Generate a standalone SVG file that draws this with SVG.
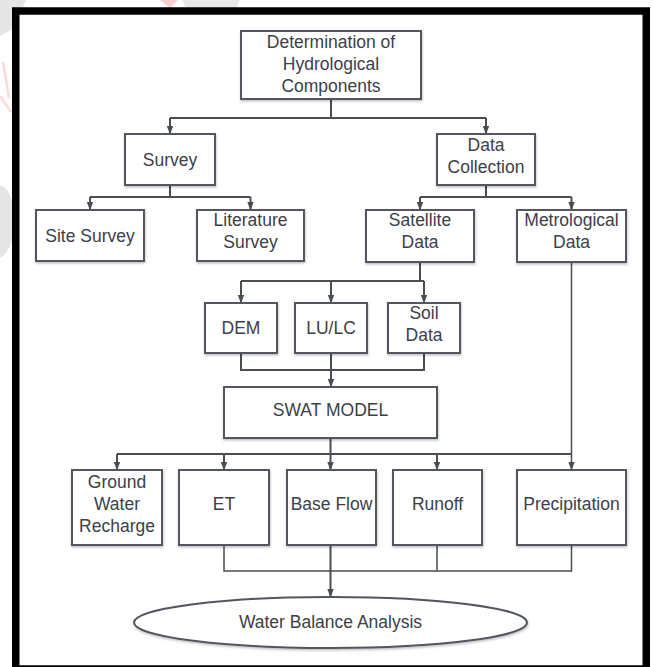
<svg xmlns="http://www.w3.org/2000/svg" width="654" height="667" viewBox="0 0 654 667">
<defs>
<style>
.box{fill:#fff;stroke:#51565e;stroke-width:2;filter:url(#sh)}
.t{font-family:"Liberation Sans",Arial,sans-serif;font-size:17.5px;fill:#3c4049;text-anchor:middle}
.c{fill:none;stroke:#4a4d52;stroke-width:2}
.c2{fill:none;stroke:#4a4d52;stroke-width:1.5}
</style>
<marker id="ah" markerUnits="userSpaceOnUse" markerWidth="8" markerHeight="9" refX="4" refY="8" orient="0" viewBox="0 0 8 9">
<path d="M0.8,0 L7.2,0 L4,8.5 Z" fill="#4a4d52"/>
</marker>
<filter id="sh" x="-10%" y="-10%" width="130%" height="140%">
<feDropShadow dx="0.5" dy="1.5" stdDeviation="1.2" flood-color="#000" flood-opacity="0.25"/>
</filter>
</defs>
<rect width="654" height="667" fill="#fff"/>
<g id="watermark">
<path d="M0,0 L26,0 L14,28 L0,36 Z" fill="#e6e6e6"/>
<path d="M3,62 L9,98 M0,96 L11,112" stroke="#fbdada" stroke-width="2.5" fill="none"/>
<path d="M0,185 Q14,190 14,220 Q14,250 0,258 Z" fill="#e6e6e6"/>
<path d="M160,0 L178,0 L170,8 Z" fill="#f8d0d0"/>
<path d="M182,0 L240,0 L236,8 L186,8 Z" fill="#e8e8e8"/>
</g>
<rect id="frame" x="15.75" y="11" width="630.5" height="658" fill="#fff" stroke="#000" stroke-width="7.5"/>
<g id="connectors">
<path class="c" d="M331,99 V118 M170,118 H486"/>
<path class="c" d="M170,118 V134" marker-end="url(#ah)"/>
<path class="c" d="M486,118 V134" marker-end="url(#ah)"/>
<path class="c" d="M170,185 V197 M90,197 H250.5"/>
<path class="c" d="M90,197 V210" marker-end="url(#ah)"/>
<path class="c" d="M250.5,197 V210" marker-end="url(#ah)"/>
<path class="c" d="M486,185 V197 M420,197 H571.5"/>
<path class="c" d="M420,197 V210" marker-end="url(#ah)"/>
<path class="c" d="M571.5,197 V210" marker-end="url(#ah)"/>
<path class="c" d="M420,262 V281 M241,281 H424"/>
<path class="c" d="M241,281 V303" marker-end="url(#ah)"/>
<path class="c" d="M331,281 V303" marker-end="url(#ah)"/>
<path class="c" d="M424,281 V303" marker-end="url(#ah)"/>
<path class="c" d="M241,353 V370 H424 V353"/>
<path class="c" d="M331,353 V387" marker-end="url(#ah)"/>
<path class="c" d="M330.5,438 V454 M117,454 H571.5"/>
<path class="c" d="M117,454 V470" marker-end="url(#ah)"/>
<path class="c" d="M224,454 V470" marker-end="url(#ah)"/>
<path class="c" d="M330.5,454 V470" marker-end="url(#ah)"/>
<path class="c" d="M437,454 V470" marker-end="url(#ah)"/>
<path class="c2" d="M571.5,262 V470" marker-end="url(#ah)"/>
<path class="c2" d="M224,545 V571 H571.5 V545 M437,545 V571"/>
<path class="c" d="M330.5,545 V597" marker-end="url(#ah)"/>
</g>
<g id="top"><rect class="box" x="241" y="31" width="180" height="68"/>
<text class="t" x="331" y="48">Determination of</text><text class="t" x="331" y="70">Hydrological</text><text class="t" x="331" y="92">Components</text></g>
<g id="survey"><rect class="box" x="125" y="134" width="90" height="51"/><text class="t" x="170" y="165.5">Survey</text></g>
<g id="data-collection"><rect class="box" x="437" y="134" width="98" height="51"/><text class="t" x="486" y="151">Data</text><text class="t" x="486" y="173">Collection</text></g>
<g id="site-survey"><rect class="box" x="36" y="210" width="108" height="51"/><text class="t" x="90" y="242">Site Survey</text></g>
<g id="literature-survey"><rect class="box" x="197" y="210" width="107" height="51"/><text class="t" x="250.5" y="226">Literature</text><text class="t" x="250.5" y="248">Survey</text></g>
<g id="satellite-data"><rect class="box" x="366" y="210" width="108" height="52"/><text class="t" x="420" y="226">Satellite</text><text class="t" x="420" y="248">Data</text></g>
<g id="metrological-data"><rect class="box" x="517" y="210" width="109" height="52"/><text class="t" x="571.5" y="226">Metrological</text><text class="t" x="571.5" y="248">Data</text></g>
<g id="dem"><rect class="box" x="205" y="303" width="72" height="50"/><text class="t" x="241" y="334">DEM</text></g>
<g id="lulc"><rect class="box" x="295" y="303" width="72" height="50"/><text class="t" x="331" y="334">LU/LC</text></g>
<g id="soil-data"><rect class="box" x="388" y="303" width="72" height="50"/><text class="t" x="424" y="319">Soil</text><text class="t" x="424" y="341">Data</text></g>
<g id="swat"><rect class="box" x="224" y="387" width="213" height="51"/><text class="t" x="330.5" y="416">SWAT MODEL</text></g>
<g id="gwr"><rect class="box" x="72" y="470" width="90" height="75"/><text class="t" x="117" y="488">Ground</text><text class="t" x="117" y="510">Water</text><text class="t" x="117" y="532">Recharge</text></g>
<g id="et"><rect class="box" x="179" y="470" width="90" height="75"/><text class="t" x="224" y="510">ET</text></g>
<g id="base-flow"><rect class="box" x="287" y="470" width="89" height="75"/><text class="t" x="331.5" y="510">Base Flow</text></g>
<g id="runoff"><rect class="box" x="393" y="470" width="89" height="75"/><text class="t" x="437.5" y="510">Runoff</text></g>
<g id="precipitation"><rect class="box" x="517" y="470" width="109" height="75"/><text class="t" x="571.5" y="510">Precipitation</text></g>
<g id="water-balance"><ellipse class="box" cx="330.5" cy="622.5" rx="196.5" ry="25.5"/><text class="t" x="330.5" y="628">Water Balance Analysis</text></g>
</svg>
